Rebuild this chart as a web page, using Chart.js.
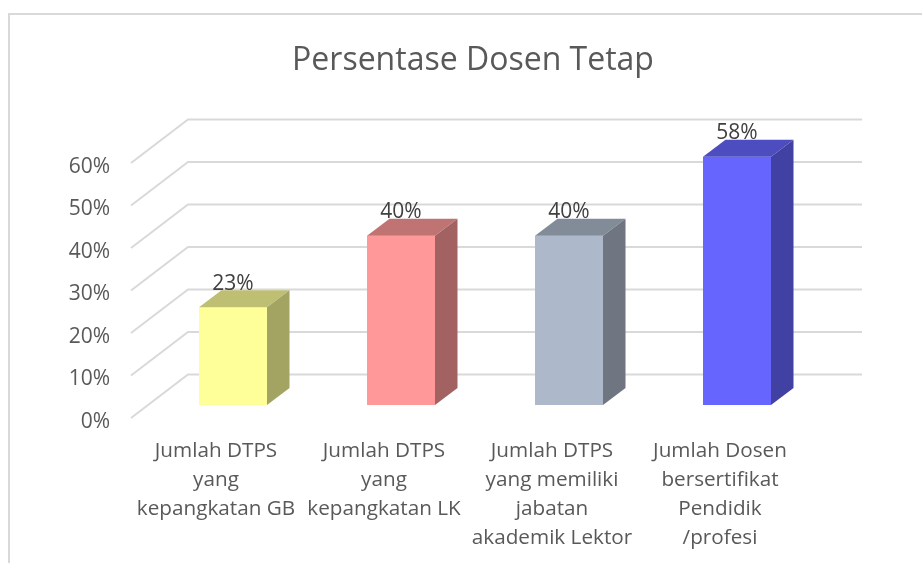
<!DOCTYPE html>
<html lang="id">
<head>
  <meta charset="UTF-8" />
  <title>Persentase Dosen Tetap</title>
  <style>
    html, body { margin: 0; padding: 0; background: #fff; overflow: hidden; }
    #marco {
      position: absolute;
      left: 8px;
      top: 13px;
      width: 914px;
      height: 550px;
      box-sizing: border-box;
      border-left: 2px solid #d9d9d9;
      border-top: 2px solid #d9d9d9;
    }
    #grafico { position: absolute; left: 0; top: 0; display: block; }
  </style>
</head>
<body>
  <div id="marco"></div>
  <canvas id="grafico" width="922" height="563"></canvas>

<script src="https://cdn.jsdelivr.net/npm/chart.js@4.4.0/dist/chart.umd.min.js"></script>
<script>
  const kategori = [
    ['Jumlah DTPS', 'yang', 'kepangkatan GB'],
    ['Jumlah DTPS', 'yang', 'kepangkatan LK'],
    ['Jumlah DTPS', 'yang memiliki', 'jabatan', 'akademik Lektor'],
    ['Jumlah Dosen', 'bersertifikat', 'Pendidik', '/profesi']
  ];
  const nilai = [23, 39.8, 39.8, 58.4];
  const warna = ['#FFFF99', '#FF9999', '#ADB9CA', '#6666FF'];

  const FONT = '"Open Sans", sans-serif';
  // offset of the fake 3D box
  const DX = 22.5, DY = -17;

  function gelap(hex, f) {
    const n = parseInt(hex.slice(1), 16);
    const r = Math.round((n >> 16) * f);
    const g = Math.round(((n >> 8) & 255) * f);
    const b = Math.round((n & 255) * f);
    return `rgb(${r},${g},${b})`;
  }

  function poligon(ctx, pts, fill) {
    ctx.beginPath();
    pts.forEach((p, i) => i ? ctx.lineTo(p[0], p[1]) : ctx.moveTo(p[0], p[1]));
    ctx.closePath();
    ctx.fillStyle = fill;
    ctx.fill();
  }

  const efek3d = {
    id: 'efek3d',
    // title sits centred on the whole frame, not on the plot
    afterLayout(chart) {
      chart.titleBlock.left = 24;
      chart.titleBlock.right = 922;
    },
    // walls: back grid line plus the diagonal on the floor side
    beforeDatasetsDraw(chart) {
      const { ctx, scales: { y }, chartArea } = chart;
      ctx.save();
      ctx.strokeStyle = '#d9d9d9';
      ctx.lineWidth = 2;
      y.ticks.forEach(t => {
        const py = y.getPixelForValue(t.value);
        ctx.beginPath();
        ctx.moveTo(chartArea.left - 18, py + 13);
        ctx.lineTo(chartArea.left + 39, py - 30.5);
        ctx.lineTo(chartArea.right + 41, py - 30.5);
        ctx.stroke();
      });
      ctx.restore();
    },
    afterDatasetsDraw(chart) {
      const { ctx } = chart;
      ctx.save();
      chart.getDatasetMeta(0).data.forEach((bar, i) => {
        const l = bar.x - bar.width / 2;
        const r = bar.x + bar.width / 2;
        poligon(ctx, [[l, bar.y], [r, bar.y], [r + DX, bar.y + DY], [l + DX, bar.y + DY]], gelap(warna[i], 0.75));
        poligon(ctx, [[r, bar.y], [r + DX, bar.y + DY], [r + DX, bar.base + DY], [r, bar.base]], gelap(warna[i], 0.64));
        ctx.font = '21px ' + FONT;
        ctx.fillStyle = '#404040';
        ctx.textAlign = 'center';
        ctx.textBaseline = 'middle';
        ctx.fillText(Math.round(nilai[i]) + '%', bar.x, bar.y - 23.5);
      });
      ctx.restore();
    }
  };

  new Chart(document.getElementById('grafico'), {
    type: 'bar',
    data: {
      labels: kategori,
      datasets: [{
        data: nilai,
        backgroundColor: warna,
        categoryPercentage: 1,
        barPercentage: 68 / 168
      }]
    },
    options: {
      responsive: false,
      animation: false,
      layout: { padding: { left: 24, right: 101, top: 0, bottom: 0 } },
      plugins: {
        legend: { display: false },
        tooltip: { enabled: false },
        title: {
          display: true,
          text: 'Persentase Dosen Tetap',
          color: '#595959',
          font: { family: FONT, size: 32, weight: 'normal', lineHeight: 38 / 32 },
          padding: { top: 42, bottom: 70 }
        }
      },
      scales: {
        x: {
          grid: { display: false },
          border: { display: false },
          afterFit: s => { s.height = 158; },
          ticks: {
            color: '#595959',
            font: { family: FONT, size: 20.7, lineHeight: 29 / 20.7 },
            maxRotation: 0,
            autoSkip: false,
            padding: 24,
            labelOffset: -17
          }
        },
        y: {
          min: 0,
          max: 60,
          grid: { display: false, drawTicks: false },
          border: { display: false },
          afterFit: s => { s.width = 125; },
          ticks: {
            stepSize: 10,
            color: '#595959',
            font: { family: FONT, size: 21 },
            padding: 39,
            labelOffset: 17,
            callback: v => v + '%'
          }
        }
      }
    },
    plugins: [efek3d]
  });
</script>
</body>
</html>
